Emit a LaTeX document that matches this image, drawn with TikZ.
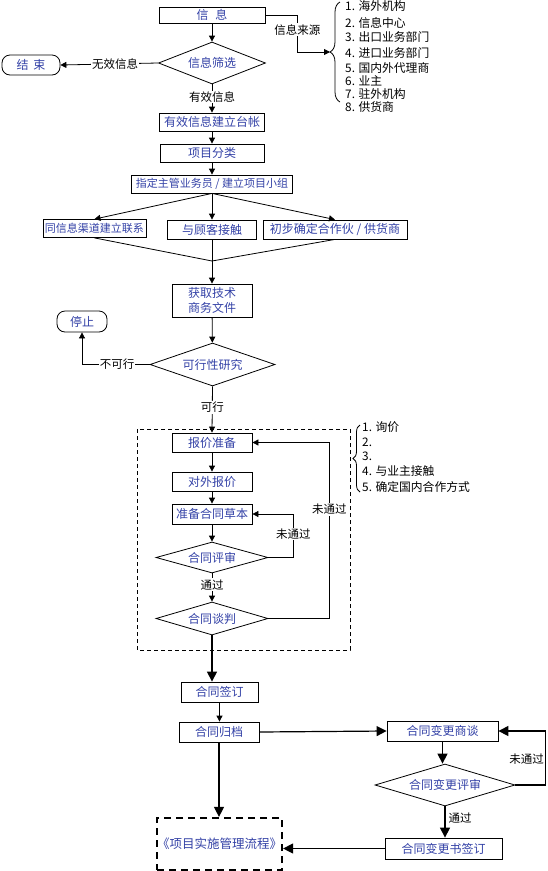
\documentclass[tikz,border=0pt]{standalone}
\usepackage{fontspec}
\setmainfont{Noto Sans CJK SC}
\usepackage{tikz}
\usetikzlibrary{shapes.geometric, arrows.meta, positioning, calc, decorations.pathreplacing}
\definecolor{flowblue}{HTML}{3341A6}

\begin{document}
\begin{tikzpicture}[x=1pt, y=-1pt,
  box/.style={draw, line width=0.8pt, text=flowblue, inner sep=0pt, font=\fontsize{12}{15}\selectfont},
  decide/.style={draw, diamond, line width=0.8pt, text=flowblue, inner sep=0pt, aspect=3, font=\fontsize{12}{12}\selectfont},
  term/.style={draw, rounded corners=8pt, line width=0.8pt, text=flowblue, inner sep=0pt, font=\fontsize{12}{12}\selectfont},
  lbl/.style={fill=white, inner sep=1pt, font=\fontsize{11.5}{11.5}\selectfont},
  srcitem/.style={anchor=west, inner sep=0pt, font=\fontsize{11.8}{12}\selectfont},
  flowline/.style={-{Triangle[length=6pt,width=6pt]}, line width=0.8pt},
  biglink/.style={-{Triangle[length=10pt,width=10pt]}, line width=1.2pt}]
  \useasboundingbox (0,0) rectangle (547,871);

  \node[box, minimum width=106pt, minimum height=16pt] (info) at (212,15) {信\hspace{7pt}息};
  \node[decide, minimum width=107pt, minimum height=42pt] (filter) at (212,63) {信息筛选};
  \node[term, minimum width=58pt, minimum height=20pt] (finish) at (31,65) {结\hspace{5pt}束};
  \node[box, minimum width=105pt, minimum height=18pt] (ledger) at (212,122) {有效信息建立台帐};
  \node[box, minimum width=104pt, minimum height=18pt] (classify) at (212,153) {项目分类};
  \node[box, minimum width=161pt, minimum height=18pt, font=\fontsize{11}{11}\selectfont] (assign) at (212,184) {指定主管业务员 / 建立项目小组};
  \node[box, minimum width=103pt, minimum height=18pt, font=\fontsize{11}{11}\selectfont] (channel) at (94.5,228.5) {同信息渠道建立联系};
  \node[box, minimum width=89pt, minimum height=19pt] (client) at (212,229.5) {与顾客接触};
  \node[box, minimum width=144pt, minimum height=19pt] (partner) at (335,229.5) {初步确定合作伙 / 供货商};
  \coordinate (merge) at (212,261);
  \node[box, minimum width=80pt, minimum height=33pt, align=center] (docs) at (212,300.5) {获取技术\\商务文件};
  \node[term, minimum width=50pt, minimum height=21pt] (stop) at (82,321.5) {停止};
  \node[decide, minimum width=125pt, minimum height=43pt] (feas) at (212.5,364.5) {可行性研究};

  \draw[dash pattern=on 4pt off 3pt, line width=0.8pt] (137,429) rectangle (350,650);
  \node[box, minimum width=80pt, minimum height=19pt] (quote) at (212,442.5) {报价准备};
  \node[box, minimum width=80pt, minimum height=19pt] (offer) at (212,481.5) {对外报价};
  \node[box, minimum width=80pt, minimum height=20pt] (draft) at (212,514) {准备合同草本};
  \node[decide, minimum width=112pt, minimum height=31pt] (review) at (212,557.5) {合同评审};
  \node[decide, minimum width=112pt, minimum height=33pt] (talk) at (212,618.5) {合同谈判};

  \node[box, minimum width=77pt, minimum height=20pt] (sign) at (219.5,692) {合同签订};
  \node[box, minimum width=80pt, minimum height=20pt] (archive) at (219,732) {合同归档};
  \node[box, line width=2.2pt, dash pattern=on 7pt off 5pt, minimum width=123pt, minimum height=52pt, font=\fontsize{12.5}{13}\selectfont] (impl) at (219.5,844) {《项目实施管理流程》};
  \node[box, minimum width=111pt, minimum height=20pt] (chgtalk) at (442.5,731) {合同变更商谈};
  \node[decide, minimum width=140pt, minimum height=42pt] (chgreview) at (445,785) {合同变更评审};
  \node[box, minimum width=117pt, minimum height=21pt] (chgsign) at (443.5,848.5) {合同变更书签订};

  \draw[decorate, decoration={brace, amplitude=10pt}, line width=0.8pt] (340,102) -- (340,2);
  \coordinate (srcbrace) at (330,52);
  \node[srcitem] (src1) at (345,6) {1. 海外机构};
  \node[srcitem] (src2) at (345,22.5) {2. 信息中心};
  \node[srcitem] (src3) at (345,37) {3. 出口业务部门};
  \node[srcitem] (src4) at (345,53) {4. 进口业务部门};
  \node[srcitem] (src5) at (345,68) {5. 国内外代理商};
  \node[srcitem] (src6) at (345,81) {6. 业主};
  \node[srcitem] (src7) at (345,94) {7. 驻外机构};
  \node[srcitem] (src8) at (345,106.5) {8. 供货商};

  \draw[decorate, decoration={brace, amplitude=7pt}, line width=0.8pt] (360,492) -- (360,425);
  \node[srcitem] (step1) at (362,427) {1. 询价};
  \node[srcitem] (step2) at (362,442) {2.};
  \node[srcitem] (step3) at (362,456) {3.};
  \node[srcitem] (step4) at (362,471) {4. 与业主接触};
  \node[srcitem] (step5) at (362,487) {5. 确定国内合作方式};

  \draw[flowline] (info) -- (filter);
  \draw[flowline] (info.east) -- ++(32,0) |- node[lbl, pos=0.2]{信息来源} (srcbrace);
  \draw[flowline] (filter.west) -- node[lbl, pos=0.44]{无效信息} (finish.east);
  \draw[flowline] (filter.south) -- node[lbl, pos=0.45]{有效信息} (ledger.north);
  \draw[flowline] (ledger) -- (classify);
  \draw[flowline] (classify) -- (assign);
  \draw[flowline] (assign.south) -- (channel.north);
  \draw[flowline] (assign.south) -- (client.north);
  \draw[flowline] (assign.south) -- (partner.north);
  \draw[line width=0.8pt] (channel.south) -- (merge);
  \draw[line width=0.8pt] (client.south) -- (merge);
  \draw[line width=0.8pt] (partner.south) -- (merge);
  \draw[flowline] (merge) -- (docs.north);
  \draw[flowline] (docs) -- (feas);
  \draw[flowline] (feas.west) -| node[lbl, pos=0.24]{不可行} (stop.south);
  \draw[flowline] (feas.south) -- node[lbl, pos=0.45]{可行} (quote.north);

  \draw[flowline] (quote) -- (offer);
  \draw[flowline] (offer) -- (draft);
  \draw[flowline] (draft) -- (review);
  \draw[flowline] (review.south) -- node[lbl, pos=0.4]{通过} (talk.north);
  \draw[flowline] (review.east) -- ++(25,0) |- node[lbl, pos=0.27]{未通过} (draft.east);
  \draw[flowline] (talk.east) -- ++(61,0) |- node[lbl, pos=0.31]{未通过} (quote.east);

  \draw[biglink] (talk.south) -- (talk.south |- sign.north);
  \draw[flowline] (sign.south) -- (sign.south |- archive.north);
  \draw[biglink] (archive.south) -- (archive.south |- impl.north);
  \draw[biglink] (archive.east) -- (chgtalk.west);
  \draw[biglink] (chgtalk.south) -- (chgtalk.south |- chgreview.north);
  \draw[biglink] (chgreview.south) -- node[lbl, right, xshift=2pt, pos=0.38]{通过} (chgreview.south |- chgsign.north);
  \draw[biglink] (chgreview.east) -- ++(30,0) |- node[lbl, left, pos=0.24]{未通过} (chgtalk.east);
  \draw[biglink] (chgsign.west) -- (chgsign.west -| impl.east);
\end{tikzpicture}
\end{document}
